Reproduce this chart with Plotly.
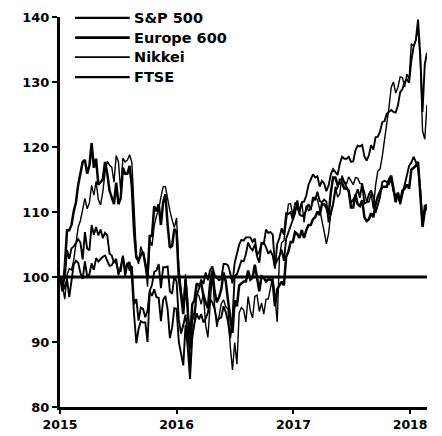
import pandas as pd
import plotly.graph_objects as go

# Weekly (Friday) observations, rebased to 100 at start of 2015
dates = pd.date_range("2015-01-02", periods=165, freq="7D")

sp500 = [
    # 2015
    100.0, 99.3, 98.1, 99.7, 96.9, 99.8, 101.9, 102.5, 102.2, 100.6, 99.7, 102.4, 100.1,
    100.4, 102.1, 101.1, 102.9, 102.4, 102.8, 103.1, 103.3, 102.4, 101.7, 101.8, 102.5, 102.1,
    100.9, 100.9, 103.3, 101.0, 102.2, 101.0, 101.7, 95.8, 96.6, 93.3, 95.3, 95.1, 93.8,
    94.8, 97.9, 98.8, 100.8, 101.0, 102.0, 98.3, 101.5, 101.5, 101.6, 97.8, 97.4, 100.1,
    # 2016
    99.3, 93.4, 91.3, 92.6, 94.2, 91.3, 88.9, 93.2, 94.6, 97.2, 98.2, 99.6, 98.9,
    100.7, 99.5, 101.1, 101.6, 100.3, 99.9, 99.5, 99.7, 102.0, 102.0, 101.8, 100.6, 99.0,
    102.2, 103.5, 105.0, 105.7, 105.6, 106.1, 106.1, 106.1, 105.4, 105.9, 103.4, 103.9, 105.2,
    105.3, 104.6, 103.6, 104.0, 103.3, 101.3, 105.1, 106.0, 107.5, 106.5, 109.8, 109.7, 110.0, 108.8,
    # 2017
    110.6, 110.5, 110.3, 111.5, 111.6, 112.5, 114.2, 115.0, 115.8, 115.3, 115.5, 113.9, 114.8,
    114.4, 113.2, 114.1, 115.8, 116.6, 116.2, 115.7, 117.4, 118.5, 118.2, 118.2, 118.5, 117.7,
    117.8, 119.5, 120.2, 120.1, 120.3, 118.6, 117.9, 118.7, 120.3, 119.6, 121.5, 121.6, 122.4,
    123.8, 124.0, 125.1, 125.4, 125.7, 125.4, 125.3, 126.4, 128.4, 128.9, 130.0, 130.4, 129.9,
    # 2018
    133.3, 135.4, 136.5, 139.6, 134.2, 125.4, 132.7, 134.5,
]

europe600 = [
    # 2015
    100.1, 97.8, 101.6, 107.2, 107.2, 108.0, 110.1, 111.5, 114.2, 115.9, 117.7, 118.0, 115.9,
    117.1, 120.6, 116.8, 118.2, 114.2, 114.7, 115.0, 117.7, 115.9, 113.3, 112.1, 111.2, 114.5,
    111.2, 112.1, 116.8, 115.9, 115.9, 117.1, 113.9, 106.9, 103.0, 102.5, 103.4, 103.9, 101.6,
    100.0, 106.3, 106.3, 110.9, 110.1, 111.2, 108.0, 111.5, 112.7, 108.0, 104.5, 104.8, 107.4,
    # 2016
    106.9, 99.9, 97.2, 94.3, 99.6, 95.2, 89.9, 95.8, 96.4, 99.0, 98.7, 99.0, 97.2,
    96.1, 95.2, 99.0, 101.0, 97.8, 96.1, 96.9, 98.1, 100.7, 99.3, 96.4, 94.0, 91.4,
    96.4, 95.5, 98.7, 99.0, 99.3, 99.3, 101.0, 99.6, 99.9, 101.9, 99.9, 97.8, 100.1,
    99.9, 99.3, 99.6, 99.6, 99.3, 95.5, 98.1, 98.7, 99.3, 98.7, 103.1, 103.9, 105.4, 105.4,
    # 2017
    106.9, 106.6, 106.0, 107.2, 106.0, 107.2, 108.0, 108.0, 108.9, 109.2, 110.1, 109.5, 111.2,
    111.2, 110.7, 109.5, 113.0, 115.3, 115.3, 114.2, 114.5, 114.5, 113.6, 113.6, 113.3, 110.7,
    110.7, 112.7, 111.2, 110.9, 111.8, 109.2, 108.6, 108.9, 109.8, 109.2, 111.2, 112.4, 113.3,
    113.9, 113.9, 113.9, 115.0, 115.6, 113.6, 111.5, 113.0, 111.5, 113.3, 113.6, 114.2, 113.6,
    # 2018
    116.5, 116.8, 117.1, 117.7, 113.3, 107.7, 110.1, 111.2,
]

nikkei = [
    # 2015
    100.0, 98.6, 96.6, 100.3, 101.3, 101.1, 102.6, 105.0, 107.7, 108.7, 110.3, 112.1, 110.5,
    111.4, 114.1, 112.6, 114.7, 111.9, 111.1, 113.1, 116.1, 117.8, 117.2, 116.9, 114.6, 118.7,
    117.7, 113.3, 118.3, 117.7, 118.0, 118.8, 117.6, 111.4, 103.5, 102.0, 104.7, 103.5, 102.5,
    98.5, 105.7, 104.8, 107.9, 109.4, 110.4, 112.3, 113.9, 113.9, 111.8, 110.2, 108.8, 107.6,
    # 2016
    109.1, 101.4, 98.3, 95.0, 100.4, 96.4, 85.7, 91.5, 92.8, 97.5, 97.1, 95.8, 97.4,
    92.6, 90.7, 96.5, 100.7, 95.5, 92.3, 94.0, 95.9, 96.5, 95.4, 95.1, 89.4, 85.7,
    89.9, 86.6, 94.5, 95.3, 94.9, 93.1, 97.0, 94.8, 93.7, 97.0, 97.2, 94.7, 96.0,
    94.3, 96.6, 96.6, 98.5, 100.0, 96.9, 93.1, 103.0, 105.3, 105.6, 108.9, 111.2, 111.3, 109.5,
    # 2017
    111.5, 110.5, 109.7, 111.6, 108.4, 111.0, 110.2, 110.5, 111.6, 112.3, 111.9, 110.4, 108.4,
    107.0, 105.1, 106.7, 110.0, 111.4, 113.9, 112.3, 112.8, 115.6, 114.7, 114.3, 115.4, 114.8,
    114.2, 115.3, 115.2, 114.4, 114.3, 113.1, 111.6, 111.5, 112.8, 110.5, 114.1, 116.3, 116.6,
    118.6, 121.2, 123.0, 126.1, 129.2, 130.0, 128.3, 129.2, 130.8, 130.7, 129.2, 131.2, 130.5,
    # 2018
    135.9, 135.5, 136.4, 138.2, 133.4, 122.5, 121.2, 126.5,
]

ftse = [
    # 2015
    99.7, 99.0, 99.8, 104.1, 102.8, 104.4, 104.7, 105.3, 105.8, 105.3, 102.7, 106.9, 104.4,
    104.1, 108.0, 106.5, 107.7, 106.4, 107.3, 106.0, 106.8, 106.4, 103.6, 103.3, 102.2, 102.8,
    100.3, 101.6, 103.2, 100.2, 102.0, 102.3, 99.8, 94.2, 89.8, 92.0, 93.2, 93.0, 93.0,
    90.0, 97.7, 97.1, 98.1, 96.9, 96.8, 93.2, 96.5, 97.1, 95.0, 90.6, 92.2, 95.2,
    # 2016
    95.1, 90.0, 88.4, 86.4, 92.6, 89.1, 84.3, 90.6, 92.9, 94.4, 93.5, 94.3, 93.0,
    93.6, 94.5, 96.6, 96.1, 95.1, 93.3, 93.5, 93.8, 95.5, 94.6, 93.1, 90.6, 93.5,
    100.2, 100.4, 101.6, 102.5, 102.4, 103.5, 105.3, 104.5, 104.1, 105.0, 103.2, 102.2, 105.2,
    105.1, 107.3, 106.8, 106.9, 106.5, 101.9, 102.5, 103.2, 104.2, 102.5, 105.9, 106.8, 107.6, 108.8,
    # 2017
    109.8, 111.8, 109.6, 109.4, 109.5, 110.5, 111.2, 110.3, 112.3, 111.8, 113.1, 111.7, 111.5,
    111.9, 111.6, 108.4, 109.7, 111.1, 113.2, 113.8, 115.0, 115.0, 114.6, 113.7, 113.1, 111.4,
    111.9, 112.4, 113.5, 112.2, 114.4, 111.3, 111.5, 112.7, 113.3, 112.4, 109.9, 111.3, 112.3,
    114.6, 114.8, 114.6, 114.3, 115.1, 113.2, 112.4, 112.8, 111.2, 112.6, 114.1, 115.8, 117.1,
    # 2018
    117.6, 118.5, 117.7, 116.8, 113.4, 108.0, 111.1, 110.3,
]

series_names = ["S&P 500", "Europe 600", "Nikkei", "FTSE"]
series_values = [sp500, europe600, nikkei, ftse]
series_widths = [1.9, 2.5, 1.4, 1.9]

x_tick_vals = ["2015-01-01", "2016-01-01", "2017-01-01", "2018-01-01"]
x_tick_text = ["2015", "2016", "2017", "2018"]
y_tick_vals = [80, 90, 100, 110, 120, 130, 140]
baseline = 100

fig = go.Figure()
for name, vals, w in zip(series_names, series_values, series_widths):
    fig.add_trace(go.Scatter(x=dates, y=vals, mode="lines", name=name,
                             line=dict(color="black", width=w), showlegend=False))

# horizontal reference line at 100
fig.add_shape(type="line", xref="paper", x0=0, x1=1, yref="y", y0=baseline, y1=baseline,
              line=dict(color="black", width=3), layer="above")

# manual legend (line sample + label)
leg_y = [0.998, 0.947, 0.897, 0.846]
for name, w, yy in zip(series_names, series_widths, leg_y):
    fig.add_shape(type="line", xref="paper", yref="paper", x0=0.041, x1=0.19, y0=yy, y1=yy,
                  line=dict(color="black", width=w + 0.4))
    fig.add_annotation(xref="paper", yref="paper", x=0.197, y=yy, xanchor="left", yanchor="middle",
                       text="<b>" + name + "</b>", showarrow=False,
                       font=dict(family="DejaVu Sans", size=14.5, color="black"))

# the page body has an 8px default margin; size the figure to fit the window
fig.update_layout(
    width=434, height=428,
    margin=dict(l=52, r=15, t=9, b=29, autoexpand=False),
    paper_bgcolor="white", plot_bgcolor="white",
    font=dict(family="DejaVu Sans", color="black"),
    xaxis=dict(type="date", range=["2015-01-01", "2018-02-23"], automargin=False,
               tickvals=x_tick_vals, ticktext=x_tick_text,
               showgrid=False, zeroline=False, showline=True, linewidth=3, linecolor="black",
               ticks="outside", ticklen=4, tickwidth=2, tickcolor="black",
               tickfont=dict(family="DejaVu Sans", size=12.5, color="black", weight="bold")),
    yaxis=dict(range=[80, 140], tickvals=y_tick_vals, automargin=False,
               showgrid=False, zeroline=False, showline=True, linewidth=3, linecolor="black",
               ticks="outside", ticklen=5, tickwidth=2, tickcolor="black",
               ticksuffix="\u00a0\u00a0",
               tickfont=dict(family="DejaVu Sans", size=13, color="black", weight="bold")),
)

fig.write_html("out.html")
